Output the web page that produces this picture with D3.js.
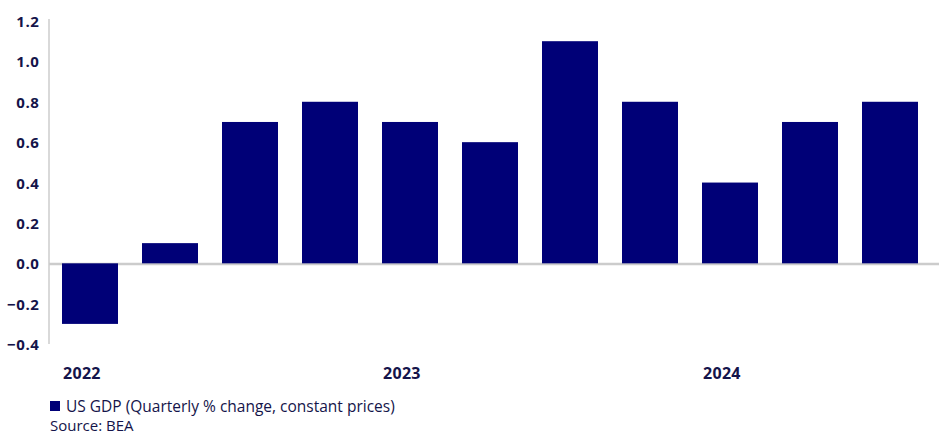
<!DOCTYPE html>
<html><head><meta charset="utf-8">
<script src="https://cdn.jsdelivr.net/npm/d3@7"></script>
<style>body{margin:0;background:#fff;}svg{display:block;font-family:"Open Sans",sans-serif;}</style>
</head><body>
<svg id="c" width="939" height="434"></svg>
<script>
const quarters = ["2022Q1","2022Q2","2022Q3","2022Q4","2023Q1","2023Q2","2023Q3","2023Q4","2024Q1","2024Q2","2024Q3"];
const gdp = [-0.3, 0.1, 0.7, 0.8, 0.7, 0.6, 1.1, 0.8, 0.4, 0.7, 0.8];
const yearLabels = ["2022","2023","2024"];
const yearAt = ["2022Q1","2023Q1","2024Q1"];
const yTicks = [-0.4,-0.2,0,0.2,0.4,0.6,0.8,1.0,1.2];
const seriesName = "US GDP (Quarterly % change, constant prices)";
const sourceText = "Source: BEA";

const svg = d3.select("#c");
const textCol = "#14144a";
const barCol = "#000077";

const x = d3.scaleBand().domain(quarters).range([50,930]).paddingInner(0.3).paddingOuter(0.15);
const y = d3.scaleLinear().domain([-0.4,1.2]).range([344.1,21]);

// y axis line
svg.append("line").attr("x1",49).attr("x2",49).attr("y1",19).attr("y2",y(-0.4))
  .attr("stroke","#cccccc").attr("stroke-width",1.5);
// zero line
svg.append("line").attr("x1",49).attr("x2",939).attr("y1",y(0)+0.6).attr("y2",y(0)+0.6)
  .attr("stroke","#cccccc").attr("stroke-width",2.5);

// y tick labels
svg.append("g").selectAll("text").data(yTicks).join("text")
  .attr("x",39.5).attr("y",d=>y(d)+6).attr("text-anchor","end")
  .attr("fill",textCol).attr("font-size",15).attr("font-weight",700).attr("letter-spacing",0.6)
  .text(d=>d3.format(".1f")(d));

// bars
svg.append("g").selectAll("rect").data(gdp).join("rect")
  .attr("x",(d,i)=>x(quarters[i])).attr("width",x.bandwidth())
  .attr("y",d=>y(Math.max(0,d))).attr("height",d=>Math.abs(y(d)-y(0)))
  .attr("fill",barCol);

// year labels
svg.append("g").selectAll("text").data(yearLabels).join("text")
  .attr("x",(d,i)=>x(yearAt[i])+1).attr("y",379)
  .attr("text-anchor","start").attr("fill",textCol).attr("font-size",16).attr("font-weight",700)
  .attr("letter-spacing",0.3)
  .text(d=>d);

// legend
svg.append("rect").attr("x",50).attr("y",401).attr("width",10).attr("height",10).attr("fill",barCol);
svg.append("text").attr("x",66).attr("y",412).attr("fill",textCol)
  .attr("font-size",15.5).text(seriesName);
svg.append("text").attr("x",50).attr("y",431).attr("fill",textCol)
  .attr("font-size",15).text(sourceText);
</script>
</body></html>
